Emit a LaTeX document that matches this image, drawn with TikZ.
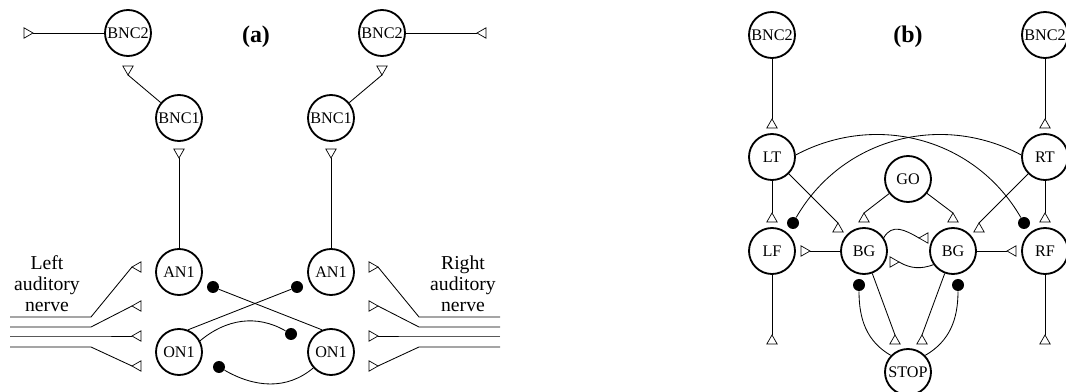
\documentclass[tikz,border=0pt]{standalone}
\usepackage{fontspec}
\setmainfont{Liberation Serif}
\usetikzlibrary{shapes.geometric}

\tikzset{
  neuron/.style={circle, draw, line width=1.3pt, minimum size=11.5mm, inner sep=0pt,
    font=\fontsize{11.5}{13}\selectfont},
  syn/.style={regular polygon, regular polygon sides=3, draw, line width=0.5pt,
    inner sep=0pt, outer sep=0pt, minimum size=3mm, anchor=corner 1},
  synup/.style={syn, regular polygon rotate=0},
  syndown/.style={syn, regular polygon rotate=180},
  synleft/.style={syn, regular polygon rotate=90},
  synright/.style={syn, regular polygon rotate=-90},
  inh/.style={circle, fill, inner sep=0pt, minimum size=3mm},
  panel/.style={font=\fontsize{17}{20}\selectfont\bfseries},
  nerve/.style={align=center, font=\fontsize{14}{15}\selectfont}
}

\begin{document}
\begin{tikzpicture}[x=0.25mm, y=0.25mm, line width=0.6pt]
    \useasboundingbox (0,0) rectangle (1066,392);
    % panel (a)
    \node[panel] (lab-a) at (256,355) {(a)};
    \node[neuron] (bnc2L) at (128,359) {BNC2};
    \node[neuron] (bnc1L) at (179,274) {BNC1};
    \node[neuron] (an1L) at (179,120) {AN1};
    \node[neuron] (on1L) at (179,40) {ON1};
    \node[neuron] (bnc2R) at (382,359) {BNC2};
    \node[neuron] (bnc1R) at (331,274) {BNC1};
    \node[neuron] (an1R) at (331,120) {AN1};
    \node[neuron] (on1R) at (331,40) {ON1};
    \node[synright] (outL) at (33,359) {};
    \node[synleft] (outR) at (477,359) {};
    \node[syndown] (bnc2L-syn) at (128,317) {};
    \node[syndown] (bnc2R-syn) at (382,317) {};
    \node[syndown] (bnc1L-syn) at (179,234) {};
    \node[syndown] (bnc1R-syn) at (331,234) {};
    \draw (bnc2L) -- (outL.corner 1);
    \draw (bnc2R) -- (outR.corner 1);
    \draw (bnc1L) -- (bnc2L-syn.corner 1);
    \draw (bnc1R) -- (bnc2R-syn.corner 1);
    \draw (an1L) -- (bnc1L-syn.corner 1);
    \draw (an1R) -- (bnc1R-syn.corner 1);
    % auditory nerve fibres
    \foreach \n/\y/\s in {1/125/75, 2/86/65, 3/56/56, 4/26/45} {
        \node[synleft] (nL\n) at (132,\y) {};
        \node[synright] (nR\n) at (378,\y) {};
        \coordinate (fibL\n) at (10,\s);
        \coordinate (fibR\n) at (500,\s);
        \draw (fibL\n) -- ++(81,0) -- (nL\n.corner 1);
        \draw (fibR\n) -- ++(-81,0) -- (nR\n.corner 1);
    }
    \node[nerve] (labL) at (47,108) {Left\\auditory\\nerve};
    \node[nerve] (labR) at (463,108) {Right\\auditory\\nerve};
    % inhibition
    \node[inh] (inhA) at (213,105) {};
    \node[inh] (inhB) at (297,105) {};
    \node[inh] (inhC) at (291,58) {};
    \node[inh] (inhD) at (219,25) {};
    \draw (on1R.112) -- (inhA);
    \draw (on1L.68) -- (inhB);
    \draw (on1L.28) to[out=40, in=150] (inhC);
    \draw (on1R.222) to[out=220, in=-30] (inhD);

    % panel (b)
    \node[panel] (lab-b) at (908,355) {(b)};
    \node[neuron] (bnc2lt) at (772,357) {BNC2};
    \node[neuron] (bnc2rt) at (1045,357) {BNC2};
    \node[neuron] (lt) at (772,235) {LT};
    \node[neuron] (rt) at (1045,235) {RT};
    \node[neuron] (go) at (908,213) {GO};
    \node[neuron] (lf) at (772,141) {LF};
    \node[neuron] (bgl) at (864,141) {BG};
    \node[neuron] (bgr) at (953,141) {BG};
    \node[neuron] (rf) at (1045,141) {RF};
    \node[neuron] (stop) at (908,20) {STOP};
    \node[synup] (lt-syn) at (772,273) {};
    \node[synup] (rt-syn) at (1045,273) {};
    \node[synup] (lf-syn) at (772,179) {};
    \node[synup] (rf-syn) at (1045,179) {};
    \node[synup] (lfout-syn) at (772,57) {};
    \node[synup] (rfout-syn) at (1045,57) {};
    \node[synup] (bgl-lt-syn) at (838,169) {};
    \node[synup] (bgr-rt-syn) at (979,169) {};
    \node[synup] (bgl-go-syn) at (864,179) {};
    \node[synup] (bgr-go-syn) at (953,179) {};
    \node[synleft] (bgr-bgl-syn) at (919,154) {};
    \node[synright] (bgl-bgr-syn) at (899,130) {};
    \node[synright] (lf-bg-syn) at (810,141) {};
    \node[synleft] (rf-bg-syn) at (1007,141) {};
    \node[synup] (stopl-syn) at (895,57) {};
    \node[synup] (stopr-syn) at (922,57) {};
    \draw (bnc2lt) -- (lt-syn.corner 1);
    \draw (bnc2rt) -- (rt-syn.corner 1);
    \draw (lt) -- (lf-syn.corner 1);
    \draw (rt) -- (rf-syn.corner 1);
    \draw (lf) -- (lfout-syn.corner 1);
    \draw (rf) -- (rfout-syn.corner 1);
    \draw (lt) -- (bgl-lt-syn.corner 1);
    \draw (rt) -- (bgr-rt-syn.corner 1);
    \draw (go) -- (bgl-go-syn.corner 1);
    \draw (go) -- (bgr-go-syn.corner 1);
    \draw (bgl) -- (lf-bg-syn.corner 1);
    \draw (bgr) -- (rf-bg-syn.corner 1);
    \draw (bgl) -- (stopl-syn.corner 1);
    \draw (bgr) -- (stopr-syn.corner 1);
    \draw (bgl.34) to[out=60, in=150, looseness=1.2] (bgr-bgl-syn.corner 1);
    \draw (bgr.215) to[out=200, in=-30] (bgl-bgr-syn.corner 1);
    % inhibition
    \node[inh] (inh-lf) at (793,169) {};
    \node[inh] (inh-rf) at (1024,169) {};
    \node[inh] (inh-bgl) at (859,107) {};
    \node[inh] (inh-bgr) at (958,107) {};
    \draw (lt.5) to[out=28, in=120] (inh-rf);
    \draw (rt.175) to[out=152, in=60] (inh-lf);
    \draw (stop.136) to[out=150, in=-90] (inh-bgl);
    \draw (stop.44) to[out=30, in=-90] (inh-bgr);
\end{tikzpicture}
\end{document}
